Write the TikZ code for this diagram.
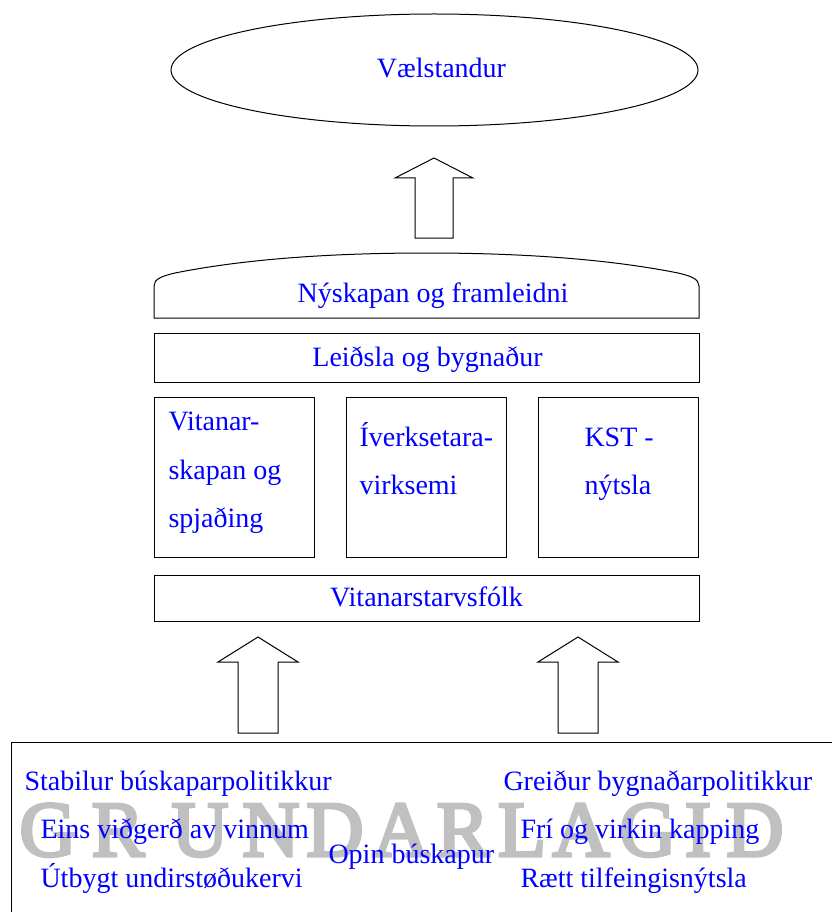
\documentclass[tikz,border=0pt]{standalone}
\usepackage{fontspec}
\setmainfont{Liberation Serif}
\font\wmf="Liberation Serif:embolden=4" at 79pt
\usetikzlibrary{shapes.geometric}
\definecolor{txtblue}{RGB}{0,0,255}
\definecolor{wmgray}{RGB}{192,192,192}
\begin{document}
\begin{tikzpicture}[x=1pt,y=-1pt,line width=1pt,line join=miter,
  box/.style={draw,rectangle,inner sep=0pt},
  lbl/.style={text=txtblue,font=\fontsize{28}{34}\selectfont,inner sep=0pt,anchor=base},
  lbll/.style={lbl,anchor=base west},
  wm/.style={text=wmgray,font=\wmf,inner sep=0pt,anchor=base},
  blockarrow/.style={draw,fill=white}]
\useasboundingbox (0,0) rectangle (831,912);

% top ellipse
\node[draw,ellipse,inner sep=0pt,minimum width=527pt,minimum height=112pt] (goal) at (434.5,70) {};
\node[lbl] (goalt) at (441.5,78) {Vælstandur};

% top block arrow
\coordinate (ta) at (434,158);
\draw[blockarrow] (ta) -- ++(39,20) -- ++(-20,0) -- ++(0,60) -- ++(-38,0) -- ++(0,-60) -- ++(-20,0) -- cycle;

% innovation shape
\draw (154,318) -- (154,286) .. controls (154,279) and (162,276) .. (175,273)
  .. controls (250,258) and (340,253) .. (426.5,253)
  .. controls (513,253) and (603,258) .. (678,273)
  .. controls (691,276) and (699,279) .. (699,286) -- (699,318) -- cycle;
\node[lbl] (innt) at (433,302) {Nýskapan og framleidni};

% leadership box
\node[box,minimum width=545pt,minimum height=49pt] (lead) at (426.5,357.5) {};
\node[lbl] (leadt) at (427.5,366) {Leiðsla og bygnaður};

% three boxes
\node[box,minimum width=160.5pt,minimum height=160pt] (b1) at (234.25,477) {};
\node[box,minimum width=160.5pt,minimum height=160pt] (b2) at (426.25,477) {};
\node[box,minimum width=160.5pt,minimum height=160pt] (b3) at (618.25,477) {};
\node[lbll] (b1a) at (168,430) {Vitanar-};
\node[lbll] (b1b) at (168,479) {skapan og};
\node[lbll] (b1c) at (168,527) {spjaðing};
\node[lbll] (b2a) at (359,446) {Íverksetara-};
\node[lbll] (b2b) at (359,494) {virksemi};
\node[lbll] (b3a) at (584,446) {KST -};
\node[lbll] (b3b) at (584,494) {nýtsla};

% staff box
\node[box,minimum width=545pt,minimum height=46pt] (staff) at (426.5,598) {};
\node[lbl] (stafft) at (426.5,606) {Vitanarstarvsfólk};

% lower block arrows
\coordinate (la) at (258,637);
\coordinate (ra) at (578,637);
\draw[blockarrow] (la) -- ++(40,25) -- ++(-20,0) -- ++(0,71) -- ++(-40,0) -- ++(0,-71) -- ++(-20,0) -- cycle;
\draw[blockarrow] (ra) -- ++(40,25) -- ++(-20,0) -- ++(0,71) -- ++(-40,0) -- ++(0,-71) -- ++(-20,0) -- cycle;

% foundation box (runs off the page)
\draw (11,915) -- (11,742) -- (835,742);

% watermark
\node[wm] (w1) at (48,856) {G};
\node[wm] (w2) at (118,856) {R};
\node[wm] (w3) at (200,856) {U};
\node[wm] (w4) at (271,856) {N};
\node[wm] (w5) at (335,856) {D};
\node[wm] (w6) at (401,856) {A};
\node[wm] (w7) at (463,856) {R};
\node[wm] (w8) at (522,856) {L};
\node[wm] (w9) at (581,856) {A};
\node[wm] (w10) at (648,856) {G};
\node[wm] (w11) at (698,856) {I};
\node[wm] (w12) at (755,856) {D};

% foundation texts
\node[lbll] (f1) at (24,790) {Stabilur búskaparpolitikkur};
\node[lbll] (f2) at (40,838) {Eins viðgerð av vinnum};
\node[lbll] (f3) at (40,887) {Útbygt undirstøðukervi};
\node[lbll] (f4) at (328,863) {Opin búskapur};
\node[lbll] (f5) at (503,790) {Greiður bygnaðarpolitikkur};
\node[lbll] (f6) at (520,838) {Frí og virkin kapping};
\node[lbll] (f7) at (520,887) {Rætt tilfeingisnýtsla};
\end{tikzpicture}
\end{document}
